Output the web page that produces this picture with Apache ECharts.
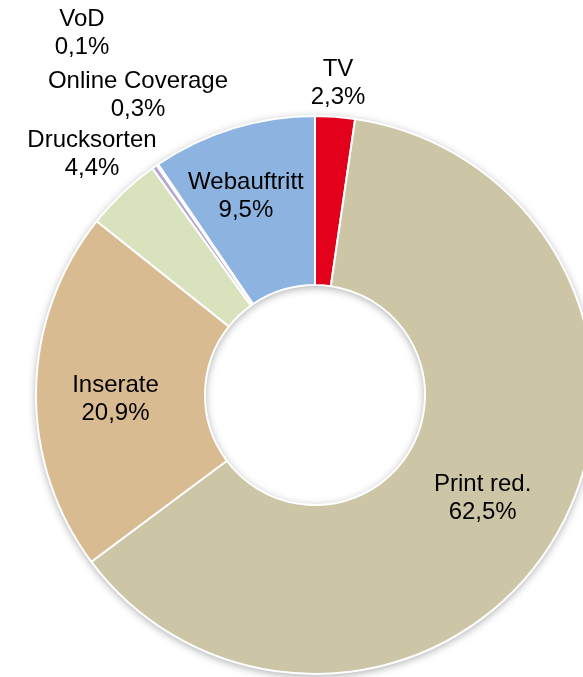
<!DOCTYPE html>
<html>
<head>
<meta charset="utf-8">
<script src="https://cdn.jsdelivr.net/npm/echarts@6/dist/echarts.min.js"></script>
<style>
  html, body { margin: 0; padding: 0; background: #fff; }
  #root { width: 583px; height: 677px; }
</style>
</head>
<body>
<div id="root"></div>
<script>
// slices, clockwise from 12 o'clock
const categories = ['TV', 'Print red.', 'Inserate', 'Drucksorten', 'Online Coverage', 'VoD', 'Webauftritt']
const shares = [2.3, 62.5, 20.9, 4.4, 0.3, 0.1, 9.5]
const colors = ['#e2001a', '#ccc5a6', '#d9bb92', '#d8e3bd', '#b7a8d2', '#c5d6ee', '#8db3e1']

// labels that sit outside the ring (centre of text block, px)
const outsideLabels = {
  'TV': [338, 83],
  'Drucksorten': [92, 154],
  'Online Coverage': [138, 95],
  'VoD': [82, 33]
}
// small nudges for labels inside the ring
const insideOffsets = {
  'Webauftritt': [-11, -10],
  'Inserate': [-2, 7],
  'Print red.': [-2, 2]
}

const fmt = v => v.toFixed(1).replace('.', ',') + '%'

const myChart = echarts.init(document.getElementById('root'))

const pieData = categories.map((name, i) => {
  const item = { name: name, value: shares[i], itemStyle: { color: colors[i] } }
  if (outsideLabels[name]) {
    item.label = { position: 'outside' }
  }
  if (insideOffsets[name]) {
    item.label = { offset: insideOffsets[name] }
  }
  return item
})

const option = {
  backgroundColor: '#fff',
  animation: false,
  series: [
    {
      // ring underneath that only casts the soft shadow
      type: 'pie',
      silent: true,
      center: [315, 395],
      radius: [110, 279],
      label: { show: false },
      labelLine: { show: false },
      itemStyle: {
        color: '#fff',
        shadowBlur: 8,
        shadowOffsetY: 2,
        shadowColor: 'rgba(0,0,0,0.35)'
      },
      data: [{ value: 1, name: '' }]
    },
    {
      type: 'pie',
      center: [315, 395],
      radius: [110, 279],
      startAngle: 90,
      clockwise: true,
      avoidLabelOverlap: false,
      minShowLabelAngle: 0,
      itemStyle: { borderColor: '#fff', borderWidth: 2 },
      label: {
        show: true,
        position: 'inside',
        formatter: p => p.name + '\n' + fmt(p.value),
        fontFamily: 'Liberation Sans, Arial, sans-serif',
        fontSize: 24,
        lineHeight: 28,
        color: '#000',
        align: 'center'
      },
      labelLine: { show: false },
      labelLayout: params => {
        const name = categories[params.dataIndex]
        const pos = outsideLabels[name]
        if (pos) {
          return { x: pos[0], y: pos[1], align: 'center', verticalAlign: 'middle' }
        }
        return {}
      },
      emphasis: { disabled: true },
      data: pieData
    }
  ]
}

myChart.setOption(option)
</script>
</body>
</html>
